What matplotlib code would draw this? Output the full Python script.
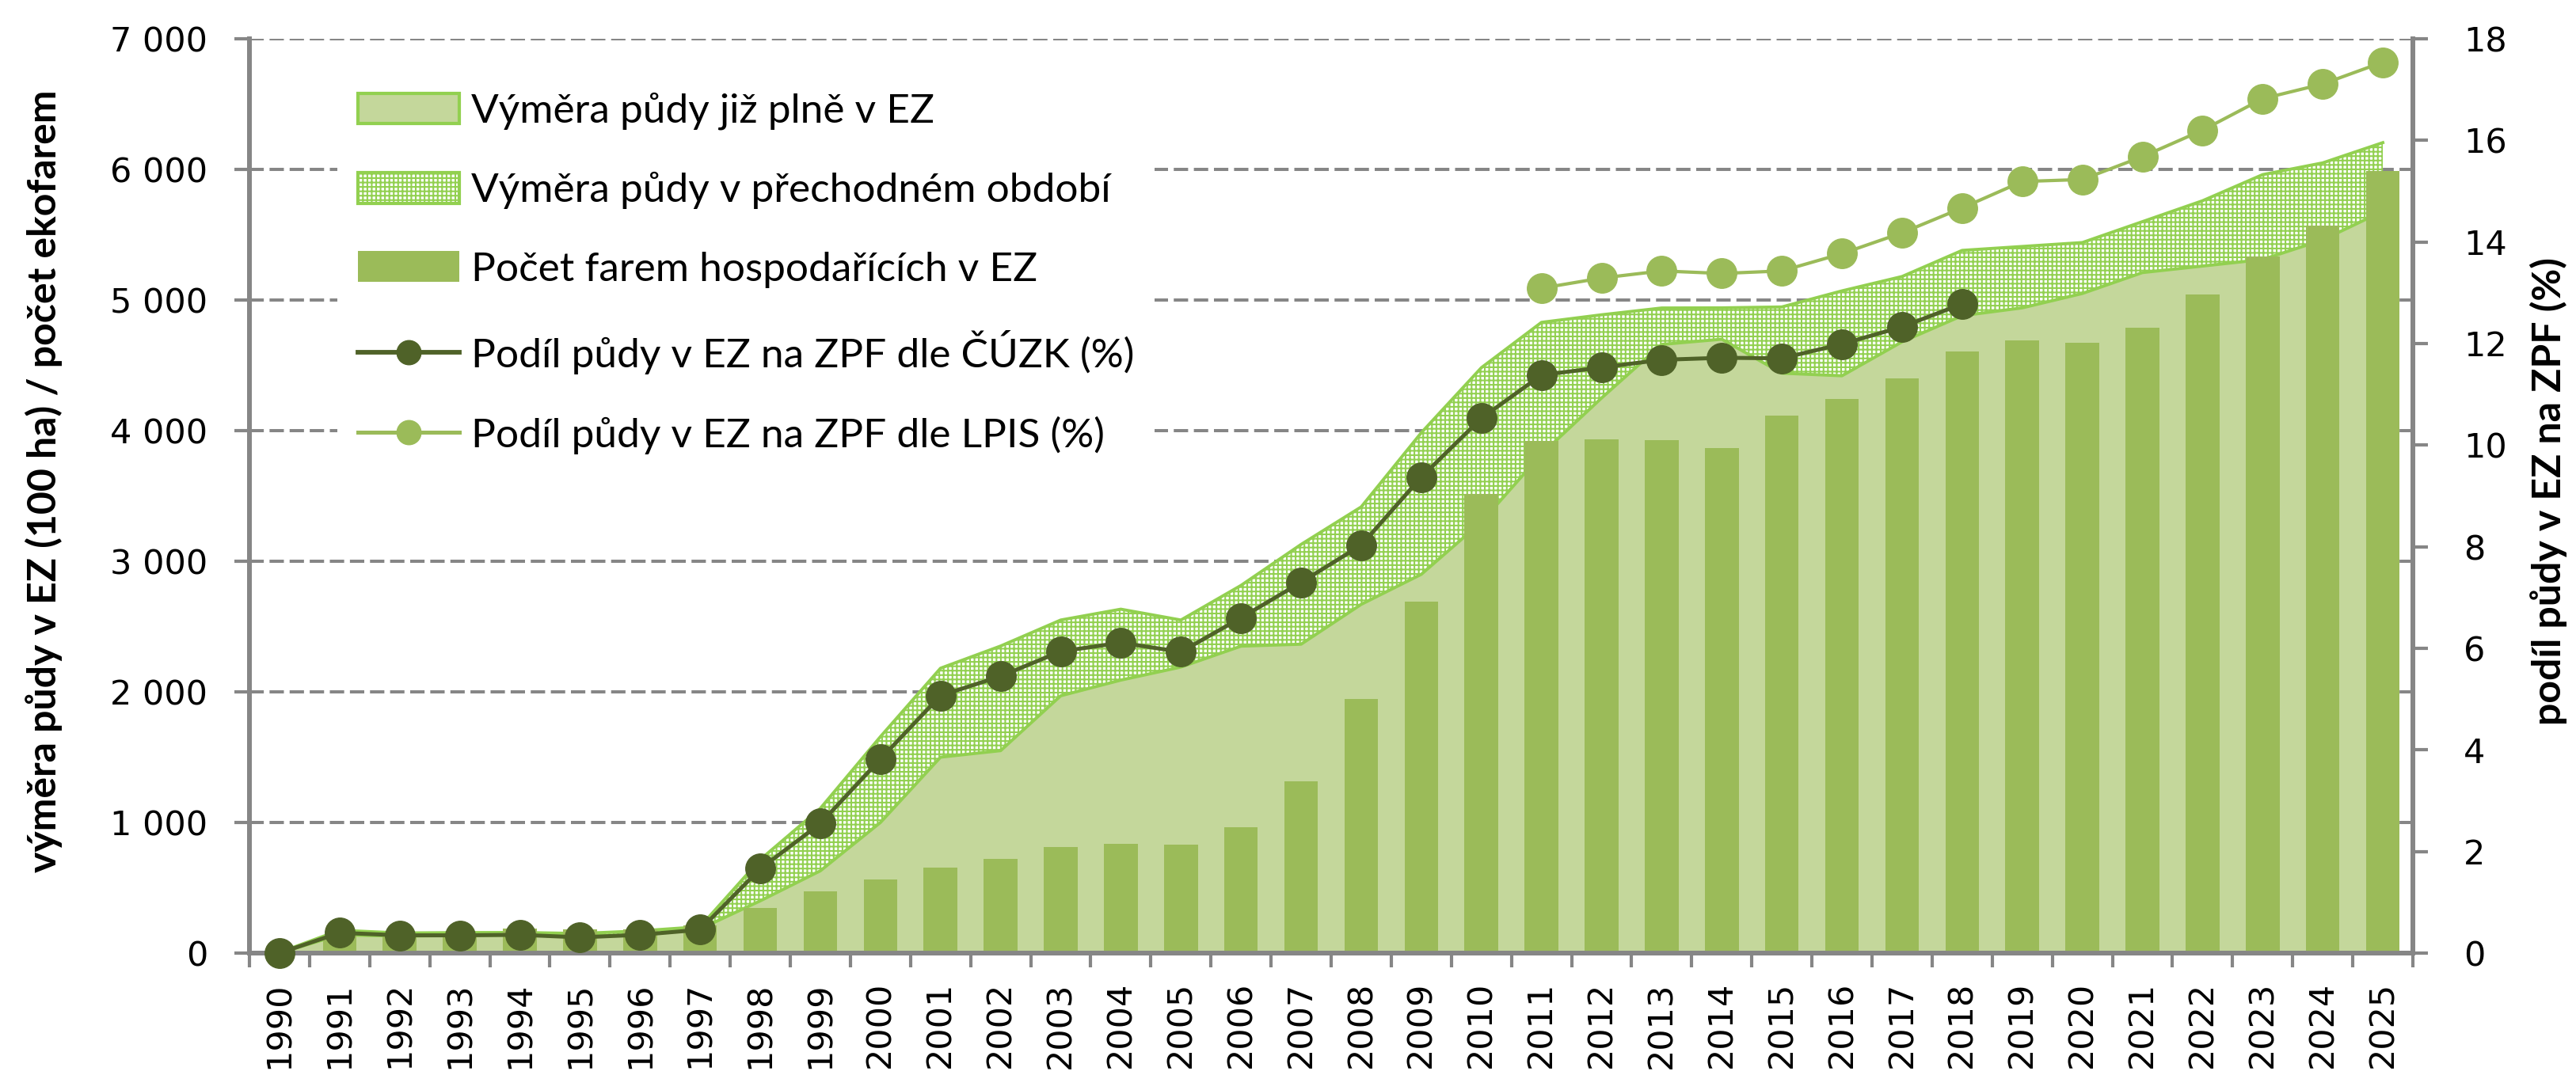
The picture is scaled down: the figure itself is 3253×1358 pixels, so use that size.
import numpy as np
import matplotlib
matplotlib.use("Agg")
import matplotlib.pyplot as plt
from matplotlib.patches import Patch
from matplotlib.lines import Line2D
from matplotlib.ticker import FuncFormatter, FixedLocator

# ---- data ----
years = list(range(1990, 2026))
area_total = [5, 175, 154, 157, 158, 150, 170, 202, 716, 1108, 1657, 2181, 2351, 2550,
              2633, 2550, 2815, 3129, 3416, 3984, 4482, 4829, 4887, 4939, 4940, 4947,
              5070, 5180, 5380, 5410, 5440, 5600, 5760, 5960, 6050, 6205]
area_full = [0, 140, 130, 135, 138, 130, 140, 185, 400, 630, 1000, 1500, 1550, 1970,
             2090, 2190, 2350, 2365, 2670, 2900, 3300, 3820, 4250, 4660, 4700, 4440,
             4420, 4680, 4880, 4940, 5050, 5210, 5260, 5310, 5460, 5680]
farms = [3, 132, 135, 141, 187, 181, 182, 211, 348, 473, 563, 654, 721, 810, 836, 829,
         963, 1318, 1946, 2689, 3517, 3920, 3934, 3926, 3866, 4115, 4243, 4399, 4606,
         4690, 4670, 4790, 5045, 5335, 5567, 5990]
share_cuzk = [0.0, 0.40, 0.35, 0.35, 0.36, 0.31, 0.36, 0.46, 1.66, 2.55, 3.82, 5.07,
              5.45, 5.94, 6.11, 5.93, 6.60, 7.30, 8.03, 9.37, 10.53, 11.38, 11.53,
              11.68, 11.72, 11.71, 11.99, 12.33, 12.78] + [np.nan] * 7
share_lpis = [np.nan] * 21 + [13.09, 13.29, 13.43, 13.38, 13.43, 13.77, 14.18, 14.67,
                              15.19, 15.23, 15.68, 16.20, 16.82, 17.11, 17.54]
left_ticks = [0, 1000, 2000, 3000, 4000, 5000, 6000, 7000]
right_ticks = [0, 2, 4, 6, 8, 10, 12, 14, 16, 18]

lbl_full = "Výměra půdy již plně v EZ"
lbl_trans = "Výměra půdy v přechodném období"
lbl_farms = "Počet farem hospodařících v EZ"
lbl_cuzk = "Podíl půdy v EZ na ZPF dle ČÚZK (%)"
lbl_lpis = "Podíl půdy v EZ na ZPF dle LPIS (%)"
ylabel_left = "výměra půdy v EZ (100 ha) / počet ekofarem"
ylabel_right = "podíl půdy v EZ na ZPF (%)"

# ---- style ----
C_LIGHT = "#C4D79B"
C_EDGE = "#92D050"
C_BAR = "#9BBB59"
C_DARK = "#4F6228"
C_LPIS = "#9BBB59"
C_GREY = "#868686"

plt.rcParams["hatch.linewidth"] = 1.5
TICKFONT = dict(family="DejaVu Sans", size=31)

W, H = 3253, 1358
fig = plt.figure(figsize=(W / 100, H / 100), dpi=100)
x0, x1, yb, yt = 315, 3047, 1204, 49
ax = fig.add_axes([x0 / W, 1 - yb / H, (x1 - x0) / W, (yb - yt) / H])

x = np.arange(len(years))
ax.fill_between(x, 0, area_full, color=C_LIGHT, lw=0, zorder=1)
ax.fill_between(x, area_full, area_total, facecolor="white", edgecolor=C_EDGE,
                hatch="+++", lw=0, zorder=1)
ax.plot(x, area_full, color=C_EDGE, lw=2.8, zorder=2)
ax.plot(x, area_total, color=C_EDGE, lw=2.8, zorder=2)
ax.bar(x, farms, width=0.56, color=C_BAR, zorder=3)

ax.set_xlim(-0.5, len(years) - 0.5)
ax.set_ylim(0, 7000)
ax.yaxis.set_major_locator(FixedLocator(left_ticks))
ax.yaxis.set_major_formatter(FuncFormatter(lambda v, p: f"{int(v):,}".replace(",", " ")))
ax.set_axisbelow(True)
ax.yaxis.grid(True, color=C_GREY, linestyle=(0, (4.5, 1.8)), lw=2.9)

ax.set_xticks(x)
ax.set_xticklabels([str(y) for y in years], rotation=90, **TICKFONT)
ax.set_xticks(np.arange(-0.5, len(years), 1), minor=True)
ax.tick_params(axis="x", which="major", length=0, pad=26)
ax.tick_params(axis="x", which="minor", length=13, width=3, color=C_GREY, direction="out")
ax.tick_params(axis="y", length=14, width=3, color=C_GREY, direction="out", pad=24)
for lab in ax.get_yticklabels():
    lab.set_fontfamily("DejaVu Sans"); lab.set_fontsize(31)

ax.spines["top"].set_visible(False)
for s in ["left", "bottom", "right"]:
    ax.spines[s].set_color(C_GREY)
    ax.spines[s].set_linewidth(4.2)

ax2 = ax.twinx()
ax2.plot(x, share_cuzk, color=C_DARK, lw=3.6, marker="o", ms=27, zorder=5, clip_on=False)
ax2.plot(x, share_lpis, color=C_LPIS, lw=3.0, marker="o", ms=27, zorder=4, clip_on=False)
ax2.set_ylim(0, 18)
ax2.yaxis.set_major_locator(FixedLocator(right_ticks))
ax2.tick_params(axis="y", length=14, width=3, color=C_GREY, direction="out", pad=32)
for lab in ax2.get_yticklabels():
    lab.set_fontfamily("DejaVu Sans"); lab.set_fontsize(31)
ax2.spines["top"].set_visible(False)
for s in ["left", "bottom", "right"]:
    ax2.spines[s].set_color(C_GREY)
    ax2.spines[s].set_linewidth(4.2)

handles = [
    Patch(facecolor=C_LIGHT, edgecolor=C_EDGE, lw=3),
    Patch(facecolor="white", edgecolor=C_EDGE, hatch="+++", lw=3),
    Patch(facecolor=C_BAR, edgecolor="none"),
    Line2D([], [], color=C_DARK, lw=4.2, marker="o", ms=22),
    Line2D([], [], color=C_LPIS, lw=3.6, marker="o", ms=22),
]
labels = [lbl_full, lbl_trans, lbl_farms, lbl_cuzk, lbl_lpis]
leg = ax2.legend(handles, labels, loc="upper left", bbox_to_anchor=(426 / W, 1 - 91 / H),
                 bbox_transform=fig.transFigure, frameon=True, fancybox=False,
                 edgecolor="none", facecolor="white", framealpha=1,
                 prop=dict(family="Lato", size=37), handlelength=2.5, handleheight=0.78,
                 handletextpad=0.28, labelspacing=1.03, borderpad=0.5, borderaxespad=0)
leg.set_zorder(10)

fig.text(55 / W, 1 - 608 / H, ylabel_left, rotation=90, ha="center", va="center",
         family="Lato", fontweight="bold", size=36)
fig.text(3218 / W, 1 - 621 / H, ylabel_right, rotation=90, ha="center", va="center",
         family="Lato", fontweight="bold", size=36)

fig.savefig("out.png", dpi=100)
